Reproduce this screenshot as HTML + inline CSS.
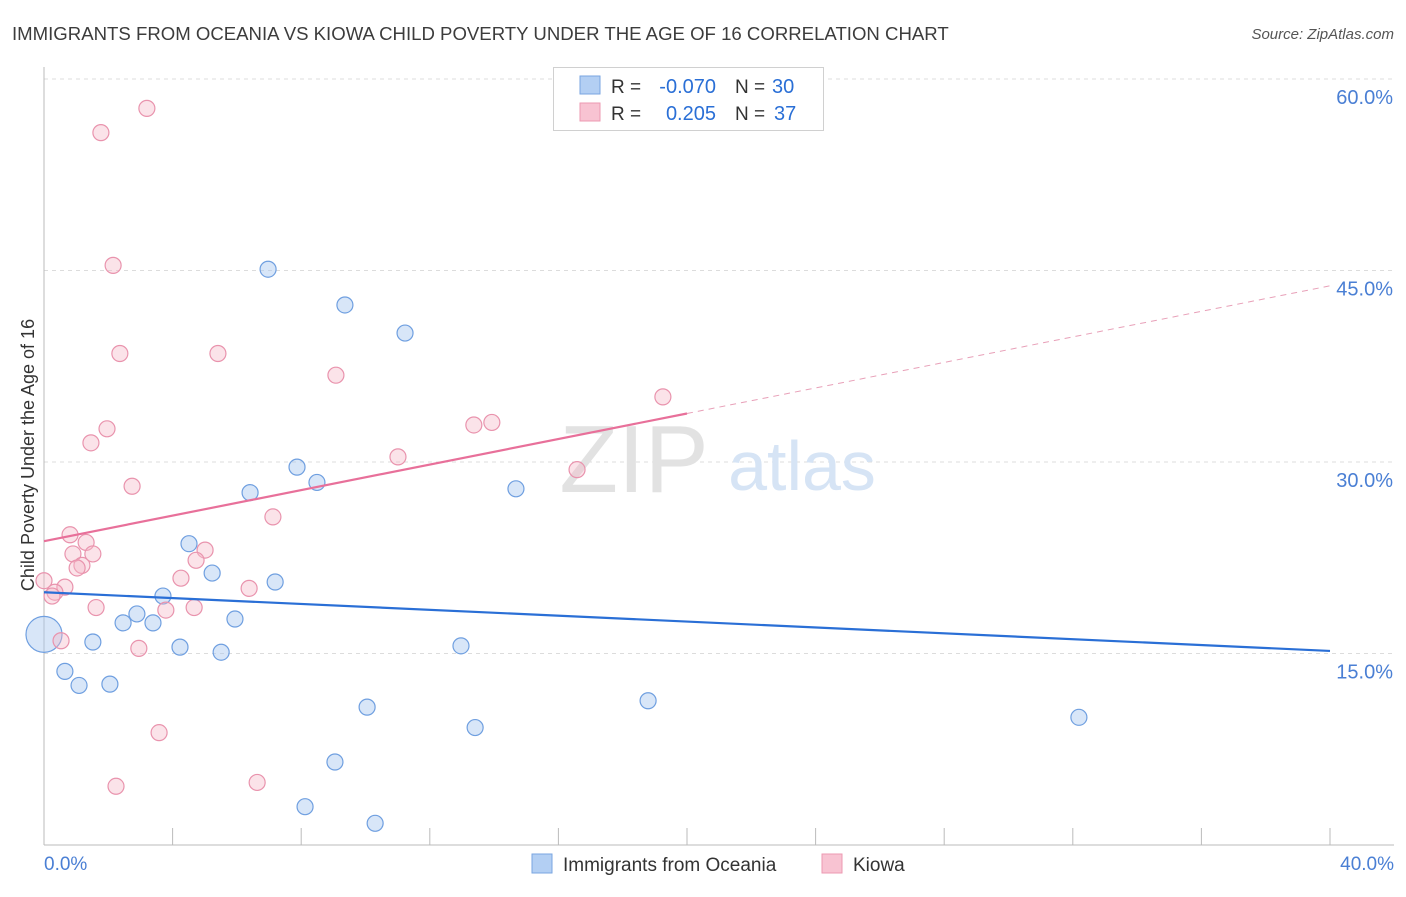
<!DOCTYPE html>
<html><head><meta charset="utf-8"><style>
body{margin:0;background:#fff;font-family:"Liberation Sans",sans-serif;}
svg text{font-family:"Liberation Sans",sans-serif;}
</style></head><body>
<svg width="1406" height="892" xmlns="http://www.w3.org/2000/svg">
<text x="12" y="40" font-size="18.6" fill="#3c3c3c">IMMIGRANTS FROM OCEANIA VS KIOWA CHILD POVERTY UNDER THE AGE OF 16 CORRELATION CHART</text>
<text x="1394" y="39" font-size="15" fill="#555" text-anchor="end" font-style="italic">Source: ZipAtlas.com</text>
<g id="grid"></g>
<text x="634" y="492" font-size="96" fill="#e2e2e2" font-family="Liberation Serif" text-anchor="middle">ZIP</text>
<text x="802" y="490" font-size="70" fill="#d6e4f5" text-anchor="middle">atlas</text>
<g id="marks"></g>
<text x="34" y="455" font-size="18" fill="#333" text-anchor="middle" transform="rotate(-90 34 455)">Child Poverty Under the Age of 16</text>
<g>
<rect x="553.5" y="67.5" width="270" height="63" fill="#fff" stroke="#d0d0d0"/>
<rect x="580" y="76" width="20" height="18" fill="#b3cff3" stroke="#7aa6e0"/>
<rect x="580" y="103" width="20" height="18" fill="#f8c3d2" stroke="#ec9ab2"/>
<text x="611" y="93" font-size="19" fill="#333">R =</text>
<text x="716" y="93" font-size="20" fill="#2a6fd6" text-anchor="end">-0.070</text>
<text x="735" y="93" font-size="19" fill="#333">N =</text>
<text x="772" y="93" font-size="20" fill="#2a6fd6">30</text>
<text x="611" y="120" font-size="19" fill="#333">R =</text>
<text x="716" y="120" font-size="20" fill="#2a6fd6" text-anchor="end">0.205</text>
<text x="735" y="120" font-size="19" fill="#333">N =</text>
<text x="774" y="120" font-size="20" fill="#2a6fd6">37</text>
</g>
<g>
<rect x="532" y="854" width="20" height="19" fill="#b3cff3" stroke="#7aa6e0"/>
<text x="563" y="871" font-size="19" fill="#333">Immigrants from Oceania</text>
<rect x="822" y="854" width="20" height="19" fill="#f8c3d2" stroke="#ec9ab2"/>
<text x="853" y="871" font-size="19" fill="#333">Kiowa</text>
</g>
</svg>
<script>
const xTicks=[0,4,8,12,16,20,24,28,32,36,40];
const yTicks=[15,30,45,60];
const blueX=[0,0.65,1.09,1.52,2.05,2.46,2.89,3.39,3.70,4.23,4.51,5.23,5.51,5.94,6.41,6.97,7.19,7.87,8.49,9.05,8.12,9.36,10.05,10.30,11.23,12.97,13.41,14.68,18.79,32.19];
const blueY=[16.5,13.6,12.5,15.9,12.6,17.4,18.1,17.4,19.5,15.5,23.6,21.3,15.1,17.7,27.6,45.1,20.6,29.6,28.4,6.5,3.0,42.3,10.8,1.7,40.1,15.6,9.2,27.9,11.3,10.0];
const pinkX=[1.77,3.20,2.15,2.36,5.41,9.08,1.96,1.46,2.74,7.12,11.01,13.37,13.93,16.58,19.25,0.81,1.31,0.90,1.52,5.01,4.73,1.18,1.03,0,0.65,0.34,0.25,4.26,6.38,1.62,3.79,4.67,0.53,2.95,3.58,2.24,6.63];
const pinkY=[55.8,57.7,45.4,38.5,38.5,36.8,32.6,31.5,28.1,25.7,30.4,32.9,33.1,29.4,35.1,24.3,23.7,22.8,22.8,23.1,22.3,21.9,21.7,20.7,20.2,19.8,19.5,20.9,20.1,18.6,18.4,18.6,16.0,15.4,8.8,4.6,4.9];
const blueTrend=[19.8,15.2];
const pinkTrend=[23.8,43.8];
const pinkSolidEnd=20;
const X=v=>44+v*(1330-44)/40;
const Y=v=>845-v*(845-79)/60;
const NS="http://www.w3.org/2000/svg";
function mk(t,a,p){const e=document.createElementNS(NS,t);for(const k in a)e.setAttribute(k,a[k]);p.appendChild(e);return e;}
const grid=document.getElementById('grid'),marks=document.getElementById('marks');
yTicks.forEach(t=>{
 const l=mk('line',{x1:44,x2:1394,y1:Y(t),y2:Y(t),stroke:'#dcdcdc','stroke-dasharray':'4,4'},grid);
 
 
 const tx=mk('text',{x:1393,y:Y(t)+25,'font-size':20,fill:'#4a7fd4','text-anchor':'end'},grid);
 tx.textContent=t.toFixed(1)+'%';
 
 
});
const ax=mk('line',{x1:44,x2:44,y1:67,y2:845,stroke:'#bbb'},grid);


const bx=mk('line',{x1:44,x2:1394,y1:845,y2:845,stroke:'#bbb'},grid);


xTicks.forEach(t=>{
 if(t===0)return;
 const l=mk('line',{x1:X(t),x2:X(t),y1:828,y2:845,stroke:'#bbb'},grid);
 
 
});
[[0,'start',44],[40,'end',1394]].forEach(([v,a,x])=>{
 const tx=mk('text',{x:x,y:870,'font-size':19,fill:'#4a7fd4','text-anchor':a},grid);
 tx.textContent=v.toFixed(1)+'%';
 
 
});
blueX.forEach((v,i)=>{
 const c=mk('circle',{cx:X(v),cy:Y(blueY[i]),r:i===0?18:8,fill:'rgba(169,200,240,0.45)',stroke:'#6f9fe0','stroke-width':1.2},marks);
 
 
});
pinkX.forEach((v,i)=>{
 const c=mk('circle',{cx:X(v),cy:Y(pinkY[i]),r:8,fill:'rgba(245,184,200,0.4)',stroke:'#e993ad','stroke-width':1.2},marks);
 
 
});
const bl=mk('line',{x1:X(0),y1:Y(blueTrend[0]),x2:X(40),y2:Y(blueTrend[1]),stroke:'#2a6fd6','stroke-width':2.2},marks);


const pm=pinkTrend[0]+(pinkTrend[1]-pinkTrend[0])*pinkSolidEnd/40;
const pl=mk('line',{x1:X(0),y1:Y(pinkTrend[0]),x2:X(pinkSolidEnd),y2:Y(pm),stroke:'#e8709a','stroke-width':2.2},marks);


const pd=mk('line',{x1:X(pinkSolidEnd),y1:Y(pm),x2:X(40),y2:Y(pinkTrend[1]),stroke:'#e8a0b8','stroke-width':1,'stroke-dasharray':'6,5'},marks);


</script>
</body></html>
